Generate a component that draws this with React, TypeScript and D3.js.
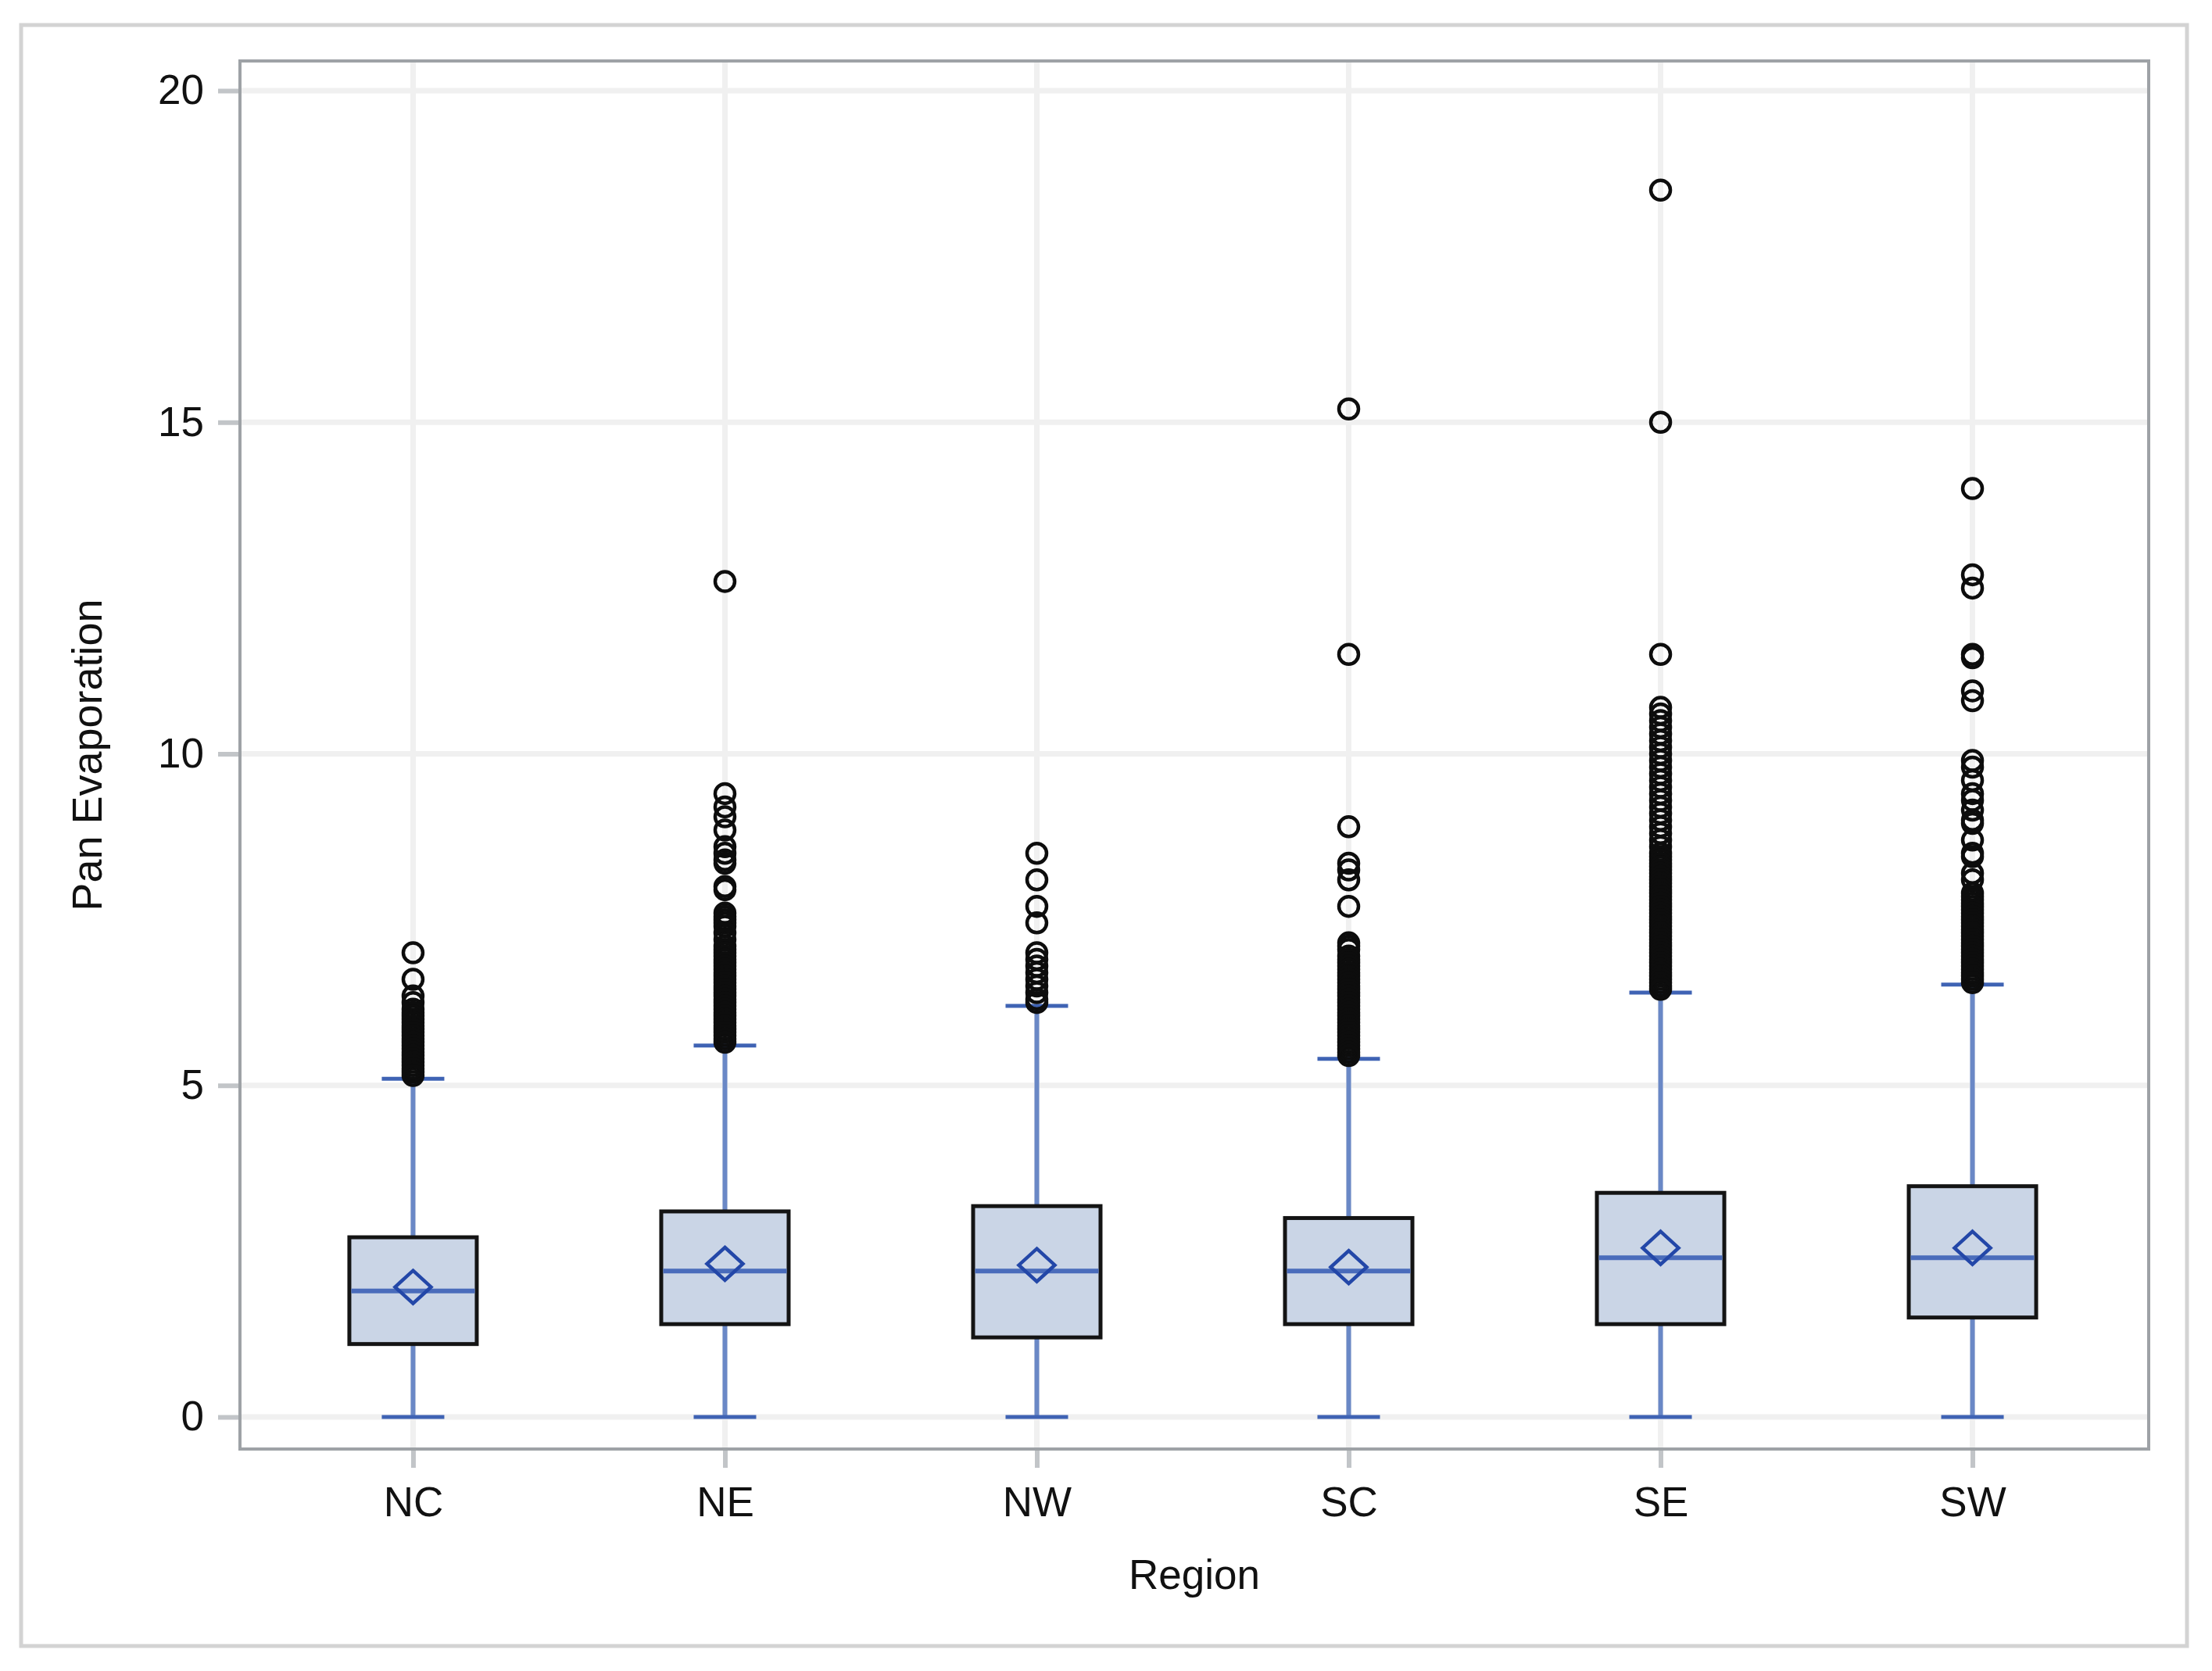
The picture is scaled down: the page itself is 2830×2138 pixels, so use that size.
import React, { useRef, useEffect } from 'react';
import * as d3 from 'd3';

// Box statistics per region
const regions = ['NC', 'NE', 'NW', 'SC', 'SE', 'SW'];
const whiskerLow = [0, 0, 0, 0, 0, 0];
const q1Values = [1.1, 1.4, 1.2, 1.4, 1.4, 1.5];
const medianValues = [1.9, 2.2, 2.2, 2.2, 2.4, 2.4];
const meanValues = [1.96, 2.31, 2.29, 2.26, 2.55, 2.55];
const q3Values = [2.71, 3.1, 3.18, 3.0, 3.38, 3.48];
const whiskerHigh = [5.1, 5.6, 6.2, 5.4, 6.4, 6.52];

const outliersNC = [
  7.0, 6.6, 6.35, 6.25, 6.15, 6.1, 6.05, 6.0, 5.95, 5.9, 5.85, 5.8, 5.75, 5.7, 5.65, 5.6, 5.55, 5.5,
  5.45, 5.4, 5.35, 5.3, 5.25, 5.2, 5.15,
];
const outliersNE = [
  12.6, 9.4, 9.2, 9.05, 8.85, 8.6, 8.5, 8.4, 8.35, 8.0, 7.95, 7.6, 7.55, 7.5, 7.45, 7.4, 7.3, 7.2,
  7.1, 7.05, 7.0, 6.95, 6.9, 6.85, 6.8, 6.75, 6.7, 6.65, 6.6, 6.55, 6.5, 6.45, 6.4, 6.35, 6.3, 6.25,
  6.2, 6.15, 6.1, 6.05, 6.0, 5.95, 5.9, 5.85, 5.8, 5.75, 5.7, 5.65,
];
const outliersNW = [8.5, 8.1, 7.7, 7.45, 7.0, 6.9, 6.8, 6.7, 6.6, 6.5, 6.4, 6.3, 6.25];
const outliersSC = [
  15.2, 11.5, 8.9, 8.35, 8.25, 8.1, 7.7, 7.15, 7.1, 7.05, 6.95, 6.9, 6.85, 6.8, 6.75, 6.7, 6.65,
  6.6, 6.55, 6.5, 6.45, 6.4, 6.35, 6.3, 6.25, 6.2, 6.15, 6.1, 6.05, 6.0, 5.95, 5.9, 5.85, 5.8, 5.75,
  5.7, 5.65, 5.6, 5.55, 5.5, 5.45,
];
const outliersSE = [
  18.5, 15.0, 11.5, 10.7, 10.6, 10.5, 10.4, 10.3, 10.2, 10.1, 10.0, 9.9, 9.8, 9.7, 9.6, 9.5, 9.4,
  9.3, 9.2, 9.1, 9.0, 8.9, 8.8, 8.7, 8.6, 8.5, 8.45, 8.4, 8.35, 8.3, 8.25, 8.2, 8.15, 8.1, 8.05, 8.0,
  7.95, 7.9, 7.85, 7.8, 7.75, 7.7, 7.65, 7.6, 7.55, 7.5, 7.45, 7.4, 7.35, 7.3, 7.25, 7.2, 7.15, 7.1,
  7.05, 7.0, 6.95, 6.9, 6.85, 6.8, 6.75, 6.7, 6.65, 6.6, 6.55, 6.5, 6.45,
];
const outliersSW = [
  14.0, 12.7, 12.5, 11.5, 11.45, 10.95, 10.8, 9.9, 9.8, 9.6, 9.4, 9.3, 9.15, 9.0, 8.95, 8.7, 8.5,
  8.45, 8.2, 8.1, 7.9, 7.85, 7.8, 7.75, 7.7, 7.65, 7.6, 7.55, 7.5, 7.45, 7.4, 7.35, 7.3, 7.25, 7.2,
  7.15, 7.1, 7.05, 7.0, 6.95, 6.9, 6.85, 6.8, 6.75, 6.7, 6.65, 6.6, 6.55,
];
const outliers = [outliersNC, outliersNE, outliersNW, outliersSC, outliersSE, outliersSW];

const yTicks = [0, 5, 10, 15, 20];

const WIDTH = 2830;
const HEIGHT = 2138;
const frame = { left: 307, right: 2749, top: 78, bottom: 1854 };

const App: React.FC = () => {
  const svgRef = useRef<SVGSVGElement>(null);

  useEffect(() => {
    const svg = d3.select(svgRef.current);
    svg.selectAll('*').remove();

    const font = '"Liberation Sans", Arial, sans-serif';
    const textColor = '#111';
    const gridColor = '#f0f0f0';

    const x = d3
      .scalePoint<string>()
      .domain(regions)
      .range([frame.left - 2, frame.right - 2])
      .padding(0.56);
    const y = d3.scaleLinear().domain([0, 20]).range([1813, 116]);

    // outer border
    svg
      .append('rect')
      .attr('x', 27)
      .attr('y', 32)
      .attr('width', 2798 - 27)
      .attr('height', 2106 - 32)
      .attr('fill', '#fff')
      .attr('stroke', '#d3d3d3')
      .attr('stroke-width', 5);

    // grid
    const grid = svg.append('g');
    grid
      .selectAll('.gy')
      .data(yTicks)
      .enter()
      .append('line')
      .attr('x1', frame.left)
      .attr('x2', frame.right)
      .attr('y1', d => y(d))
      .attr('y2', d => y(d))
      .attr('stroke', gridColor)
      .attr('stroke-width', 7);
    grid
      .selectAll('.gx')
      .data(regions)
      .enter()
      .append('line')
      .attr('x1', d => x(d)!)
      .attr('x2', d => x(d)!)
      .attr('y1', frame.top)
      .attr('y2', frame.bottom)
      .attr('stroke', gridColor)
      .attr('stroke-width', 7);

    const boxHalf = 81.5;
    const capHalf = 40;
    const whiskerColor = '#6a88c6';
    const capColor = '#3f63b4';

    regions.forEach((r, i) => {
      const cx = x(r)!;
      const g = svg.append('g');

      // whiskers
      g.append('line')
        .attr('x1', cx)
        .attr('x2', cx)
        .attr('y1', y(whiskerHigh[i]))
        .attr('y2', y(q3Values[i]))
        .attr('stroke', whiskerColor)
        .attr('stroke-width', 6);
      g.append('line')
        .attr('x1', cx)
        .attr('x2', cx)
        .attr('y1', y(q1Values[i]))
        .attr('y2', y(whiskerLow[i]))
        .attr('stroke', whiskerColor)
        .attr('stroke-width', 6);

      // caps
      [whiskerHigh[i], whiskerLow[i]].forEach(v => {
        g.append('line')
          .attr('x1', cx - capHalf)
          .attr('x2', cx + capHalf)
          .attr('y1', y(v))
          .attr('y2', y(v))
          .attr('stroke', capColor)
          .attr('stroke-width', 5);
      });

      // box
      g.append('rect')
        .attr('x', cx - boxHalf)
        .attr('y', y(q3Values[i]))
        .attr('width', boxHalf * 2)
        .attr('height', y(q1Values[i]) - y(q3Values[i]))
        .attr('fill', '#cad5e6')
        .attr('stroke', '#141414')
        .attr('stroke-width', 5);

      // median
      g.append('line')
        .attr('x1', cx - boxHalf + 2.5)
        .attr('x2', cx + boxHalf - 2.5)
        .attr('y1', y(medianValues[i]))
        .attr('y2', y(medianValues[i]))
        .attr('stroke', '#4a6cbb')
        .attr('stroke-width', 6);

      // mean diamond
      const my = y(meanValues[i]);
      g.append('path')
        .attr('d', `M${cx},${my - 21}L${cx + 23},${my}L${cx},${my + 21}L${cx - 23},${my}Z`)
        .attr('fill', 'none')
        .attr('stroke', '#2347a8')
        .attr('stroke-width', 4.5);

      // outliers
      g.selectAll('circle')
        .data(outliers[i])
        .enter()
        .append('circle')
        .attr('cx', cx)
        .attr('cy', d => y(d))
        .attr('r', 12.5)
        .attr('fill', 'none')
        .attr('stroke', '#0d0d0d')
        .attr('stroke-width', 4.5);
    });

    // axes
    const yAxis = svg
      .append('g')
      .attr('transform', `translate(${frame.left}, 0)`)
      .call(d3.axisLeft(y).tickValues(yTicks).tickSize(28).tickPadding(18).tickFormat(d3.format('d')));
    const xAxis = svg
      .append('g')
      .attr('transform', `translate(0, ${frame.bottom})`)
      .call(d3.axisBottom(x).tickSize(24).tickPadding(24));

    [yAxis, xAxis].forEach(a => {
      a.select('.domain').remove();
      a.selectAll('.tick line').attr('stroke', '#c2c5c8').attr('stroke-width', 6);
      a.selectAll('text')
        .attr('fill', textColor)
        .style('font-family', font)
        .style('font-size', '53px');
    });

    // frame
    svg
      .append('rect')
      .attr('x', frame.left)
      .attr('y', frame.top)
      .attr('width', frame.right - frame.left)
      .attr('height', frame.bottom - frame.top)
      .attr('fill', 'none')
      .attr('stroke', '#9ea2a6')
      .attr('stroke-width', 4);

    // axis labels
    svg
      .append('text')
      .attr('x', 1528)
      .attr('y', 2033)
      .attr('text-anchor', 'middle')
      .attr('fill', textColor)
      .style('font-family', font)
      .style('font-size', '53px')
      .text('Region');

    svg
      .append('text')
      .attr('transform', `translate(130, ${(frame.top + frame.bottom) / 2}) rotate(-90)`)
      .attr('text-anchor', 'middle')
      .attr('fill', textColor)
      .style('font-family', font)
      .style('font-size', '54px')
      .text('Pan Evaporation');
  }, []);

  return (
    <div style={{ position: 'absolute', left: 0, top: 0, background: '#fff' }}>
      <svg ref={svgRef} width={WIDTH} height={HEIGHT} viewBox={`0 0 ${WIDTH} ${HEIGHT}`} />
    </div>
  );
};

export default App;
